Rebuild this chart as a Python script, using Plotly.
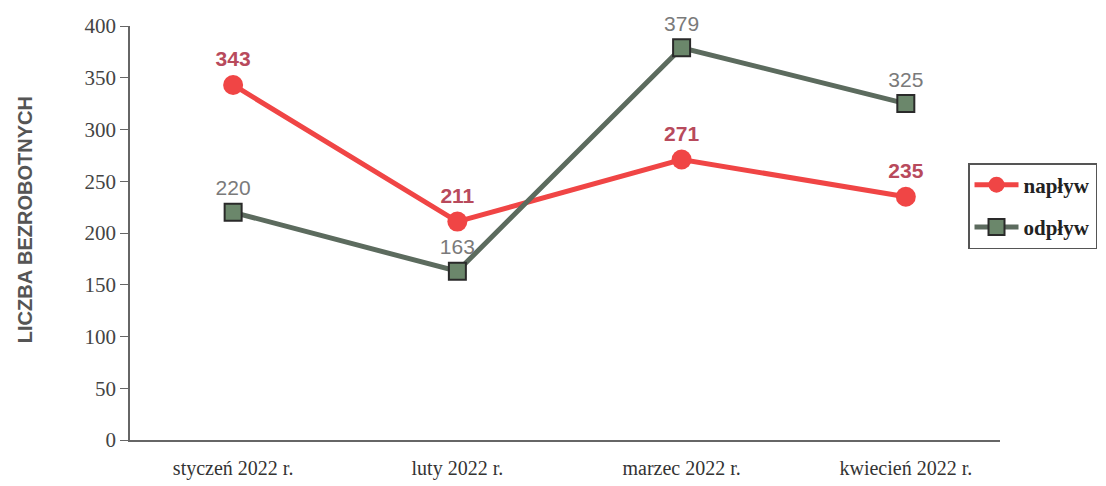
import plotly.graph_objects as go

categories = ["styczeń 2022 r.", "luty 2022 r.", "marzec 2022 r.", "kwiecień 2022 r."]
naplyw = [343, 211, 271, 235]
odplyw = [220, 163, 379, 325]
y_ticks = [0, 50, 100, 150, 200, 250, 300, 350, 400]

fig = go.Figure()
fig.add_trace(go.Scatter(
    x=categories, y=naplyw, name="napływ", mode="lines+markers+text",
    legendgroup="a", cliponaxis=False,
    line=dict(color="#f04545", width=5),
    marker=dict(symbol="circle", size=20, color="#f04545"),
    text=[str(v) for v in naplyw], textposition="top center",
    textfont=dict(family="Arial", size=21, color="#b84a5c", weight="bold"),
))
fig.add_trace(go.Scatter(
    x=categories, y=odplyw, name="odpływ", mode="lines+markers+text",
    legendgroup="b", cliponaxis=False,
    line=dict(color="#5c6b5e", width=5),
    marker=dict(symbol="square", size=17, color="#6b876b", line=dict(color="#2a2a2a", width=2)),
    text=[str(v) for v in odplyw], textposition="top center",
    textfont=dict(family="Arial", size=21, color="#7a7a7a"),
))

fig.update_layout(
    width=1106, height=486,
    margin=dict(l=122, r=114, t=18, b=54, autoexpand=False),
    paper_bgcolor="white", plot_bgcolor="white",
    font=dict(family="Liberation Serif", color="#444"),
    legend=dict(xref="container", yref="container", x=0.868, y=0.681,
                xanchor="left", yanchor="top",
                bordercolor="#555", borderwidth=1.5,
                font=dict(family="Liberation Serif", size=21, color="#222", weight="bold"),
                itemwidth=44, tracegroupgap=12),
    showlegend=True,
    annotations=[dict(
        text="<b>LICZBA BEZROBOTNYCH</b>", xref="paper", yref="paper",
        x=0, y=0.531, xanchor="center", yanchor="middle", xshift=-105,
        textangle=-90, showarrow=False,
        font=dict(family="Liberation Sans", size=20, color="#555"),
    )],
)
fig.update_xaxes(
    type="category", range=[-0.46, 3.42],
    showline=True, linecolor="#666", linewidth=1.5,
    showgrid=False, ticks="outside", ticklen=9, tickcolor="rgba(0,0,0,0)",
    tickfont=dict(family="Liberation Serif", size=20, color="#333"),
)
fig.update_yaxes(
    range=[0, 400], tickvals=y_ticks,
    showline=True, linecolor="#666", linewidth=1.5,
    showgrid=False, ticks="outside", ticklen=8, tickcolor="#666",
    tickfont=dict(family="Liberation Serif", size=21, color="#444"),
    zeroline=False,
)

fig.write_html("out.html")
